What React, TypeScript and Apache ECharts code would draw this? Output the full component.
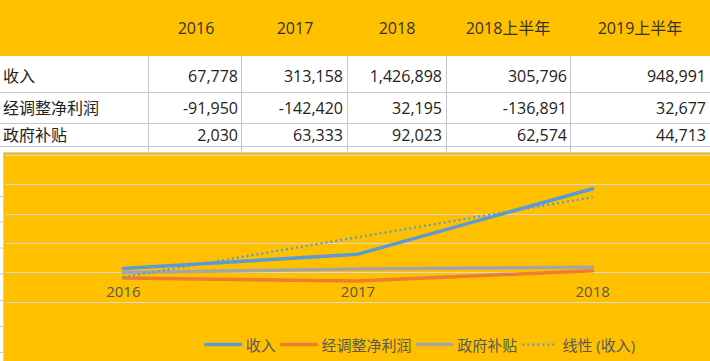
import React, { useEffect, useRef } from "react";
import * as echarts from "echarts";

const headers = ["2016", "2017", "2018", "2018上半年", "2019上半年"];
const rowLabels = ["收入", "经调整净利润", "政府补贴"];
const revenue = [67778, 313158, 1426898, 305796, 948991];
const netProfit = [-91950, -142420, 32195, -136891, 32677];
const subsidy = [2030, 63333, 92023, 62574, 44713];
const chartCategories = ["2016", "2017", "2018"];
const revenueTrend = [-76900, 602600, 1282200];
const trendName = "线性 (收入)";

const GOLD = "#FFC000";
const FONT = "'Open Sans','Noto Sans CJK SC',sans-serif";

export default function App() {
  const ref = useRef<HTMLDivElement>(null);
  useEffect(() => {
    document.body.style.margin = "0";
    const chart = echarts.init(ref.current!, null, { renderer: "svg" });

    const colRight = [238, 343, 442, 567, 706];
    const headerCenter = [196, 295, 397, 508, 640];
    const dividers = [148, 241, 347, 446, 570];
    const rowLines = [92, 123, 146];
    const rowCenters = [76, 108, 135];
    const rows = [revenue, netProfit, subsidy];
    const leftMarks = [196.5, 222, 248, 274, 300.5, 326.5, 352.5];

    const els: any[] = [];
    els.push({ type: "rect", z: -5, silent: true, shape: { x: 0, y: 0, width: 710, height: 56 }, style: { fill: GOLD } });
    dividers.forEach((x) =>
      els.push({ type: "line", z: -4, silent: true, shape: { x1: x + 0.5, y1: 56, x2: x + 0.5, y2: 153 }, style: { stroke: "#c6c6c6", lineWidth: 1 } })
    );
    rowLines.forEach((y) =>
      els.push({ type: "line", z: -4, silent: true, shape: { x1: 0, y1: y + 0.5, x2: 710, y2: y + 0.5 }, style: { stroke: "#c6c6c6", lineWidth: 1 } })
    );
    leftMarks.forEach((y) =>
      els.push({ type: "line", z: -4, silent: true, shape: { x1: 0, y1: y, x2: 3, y2: y }, style: { stroke: "#c6c6c6", lineWidth: 1 } })
    );
    headers.forEach((h, i) =>
      els.push({
        type: "text", z: 5, silent: true, x: headerCenter[i], y: 28,
        style: { text: h, fill: "#333333", fontSize: 16, fontFamily: FONT, textAlign: "center", textVerticalAlign: "middle", align: "center", verticalAlign: "middle" },
      })
    );
    rowLabels.forEach((l, r) => {
      els.push({
        type: "text", z: 5, silent: true, x: 3, y: rowCenters[r],
        style: { text: l, fill: "#222222", fontSize: 16, fontFamily: FONT, textAlign: "left", textVerticalAlign: "middle", align: "left", verticalAlign: "middle" },
      });
      rows[r].forEach((v, c) =>
        els.push({
          type: "text", z: 5, silent: true, x: colRight[c], y: rowCenters[r],
          style: { text: v.toLocaleString("en-US"), fill: "#222222", fontSize: 16, fontFamily: FONT, textAlign: "right", textVerticalAlign: "middle", align: "right", verticalAlign: "middle" },
        })
      );
    });
    els.push({ type: "rect", z: -3, silent: true, shape: { x: 3.5, y: 152.5, width: 710, height: 212 }, style: { fill: GOLD, stroke: "#d0d0d0", lineWidth: 1 } });

    const seriesNames = [rowLabels[0], rowLabels[1], rowLabels[2]];
    const colors = ["#5B9BD5", "#ED7D31", "#A5A5A5"];
    const seriesData = [revenue.slice(0, 3), netProfit.slice(0, 3), subsidy.slice(0, 3)];

    chart.setOption({
      animation: false,
      backgroundColor: "#ffffff",
      graphic: els,
      grid: { left: 6, top: 155, width: 706, height: 147, containLabel: false },
      xAxis: {
        type: "category",
        data: chartCategories,
        boundaryGap: true,
        offset: -29.4,
        axisLine: { show: true, onZero: false, lineStyle: { color: "#d9d9d9", width: 1 } },
        axisTick: { show: false },
        axisLabel: { color: "#595959", fontSize: 15, fontFamily: FONT, margin: 11 },
      },
      yAxis: {
        type: "value",
        min: -500000,
        max: 2000000,
        interval: 500000,
        axisLabel: { show: false },
        axisLine: { show: false },
        axisTick: { show: false },
        splitLine: { lineStyle: { color: "#d9d9d9", width: 1 } },
      },
      legend: {
        left: 204,
        top: 337,
        padding: 0,
        itemWidth: 35,
        itemHeight: 14,
        itemGap: 4,
        itemStyle: { opacity: 0 },
        textStyle: { color: "#595959", fontSize: 15, fontFamily: FONT },
        data: [
          ...seriesNames.map((n) => ({ name: n, lineStyle: { width: 3.5, cap: "round" } })),
          { name: trendName, lineStyle: { width: 2.25, type: [2, 3] } },
        ],
      },
      series: [
        ...seriesNames.map((n, i) => ({
          name: n,
          type: "line",
          data: seriesData[i],
          symbol: "none",
          color: colors[i],
          lineStyle: { width: 3.5, color: colors[i], cap: "round", join: "round" },
        })),
        {
          name: trendName,
          type: "line",
          data: revenueTrend,
          symbol: "none",
          color: "#5B9BD5",
          z: 3,
          lineStyle: { width: 2.25, color: "#5B9BD5", type: [2, 3] },
        },
      ],
    });
    return () => chart.dispose();
  }, []);
  return <div ref={ref} style={{ width: 710, height: 361 }} />;
}
